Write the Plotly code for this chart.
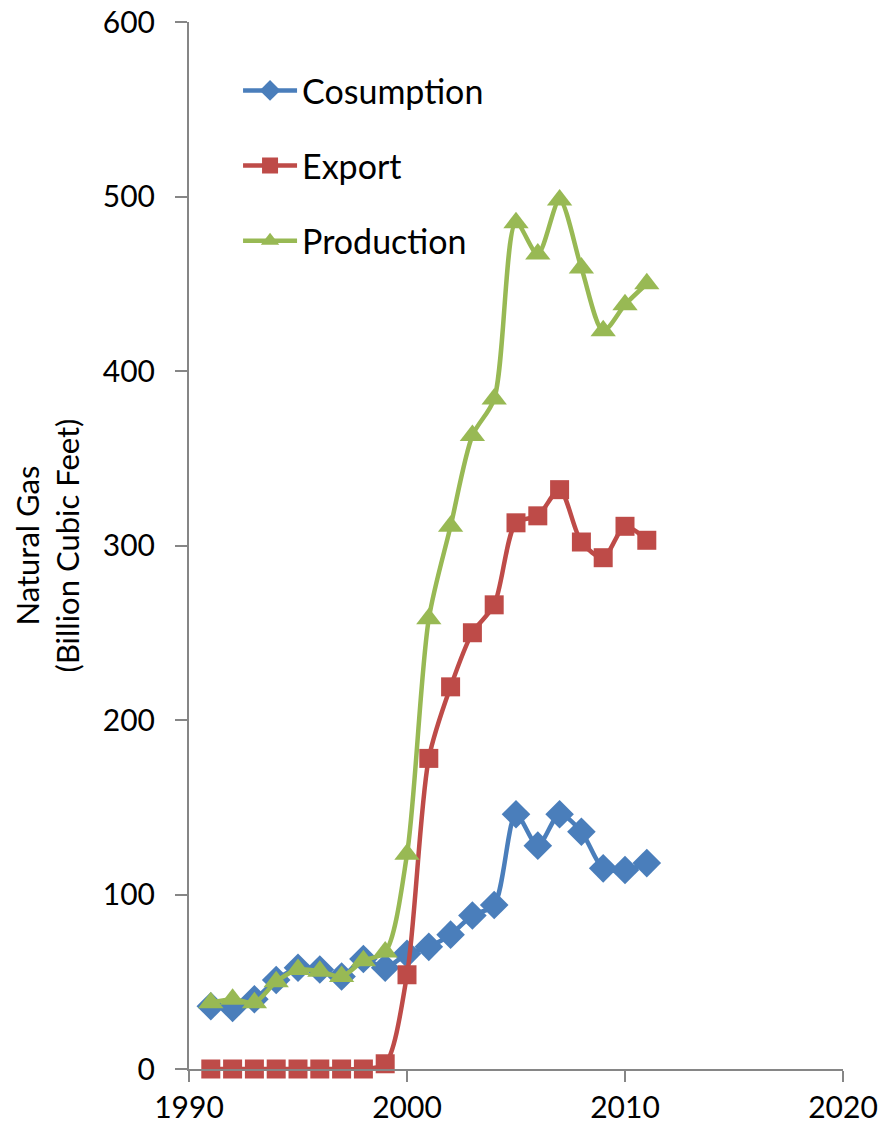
import plotly.graph_objects as go

years = list(range(1991, 2012))
consumption = [36, 35, 40, 51, 58, 57, 53, 63, 58, 66, 70, 77, 88, 94, 146, 128, 146, 136, 115, 114, 118]
export = [0, 0, 0, 0, 0, 0, 0, 0, 3, 54, 178, 219, 250, 266, 313, 317, 332, 302, 293, 311, 303]
production = [38, 40, 38, 50, 57, 56, 53, 62, 67, 123, 258, 311, 363, 384, 485, 467, 498, 459, 423, 438, 450]

x_ticks = [1990, 2000, 2010, 2020]
y_ticks = [0, 100, 200, 300, 400, 500, 600]

series = [
    ("Cosumption", consumption, "#4a7ebb", "diamond", 22),
    ("Export", export, "#be4b48", "square", 19),
    ("Production", production, "#98b954", "triangle-up", 22),
]

fig = go.Figure()
for i, (name, vals, color, sym, sz) in enumerate(series):
    fig.add_trace(go.Scatter(
        x=years, y=vals, name=name, mode="lines+markers",
        line=dict(color=color, width=4.5, shape="spline", smoothing=0.8),
        marker=dict(symbol=sym, size=sz, color=color),
        cliponaxis=False, legendgroup=f"g{i}",
    ))

fig.update_layout(
    width=881, height=1131,
    margin=dict(l=189, r=38, t=22, b=62),
    paper_bgcolor="white", plot_bgcolor="white",
    font=dict(family="Lato, 'Open Sans', sans-serif", size=30, color="black"),
    showlegend=True,
    legend=dict(x=0.075, y=0.962, xanchor="left", yanchor="top",
                font=dict(size=34), tracegroupgap=28, bgcolor="rgba(0,0,0,0)",
                itemwidth=54),
    xaxis=dict(range=[1990, 2020], tickvals=x_ticks, ticks="outside", ticklen=11,
               tickcolor="#868686", tickwidth=2, showline=True, linecolor="#868686",
               linewidth=2, showgrid=False, zeroline=False, tickfont=dict(size=30),
               automargin=False),
    yaxis=dict(range=[0, 600], tickvals=y_ticks, ticks="outside", ticklen=12,
               tickcolor="#868686", tickwidth=2, showline=True, linecolor="#868686",
               linewidth=2, showgrid=False, zeroline=False, tickfont=dict(size=30),
               ticklabelstandoff=14, automargin=False,
               title=dict(text="Natural Gas<br>(Billion Cubic Feet)", font=dict(size=31),
                          standoff=14)),
)

fig.write_html("out.html")
